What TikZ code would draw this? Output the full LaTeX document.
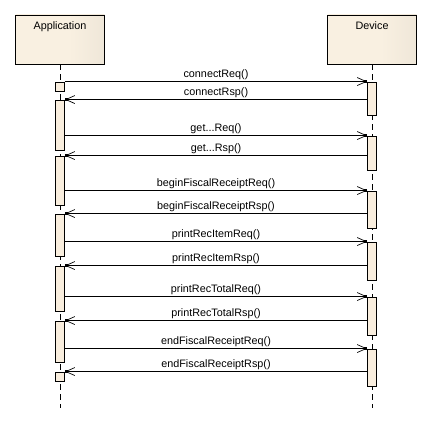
\documentclass[tikz,border=0pt]{standalone}
\usepackage{fontspec}
\setmainfont{Liberation Sans}
\usetikzlibrary{arrows.meta,decorations.markings}

\definecolor{actfill}{RGB}{249,238,222}
\definecolor{headL}{RGB}{249,240,225}
\definecolor{headR}{RGB}{226,219,206}
\pgfdeclarehorizontalshading{headshade}{100bp}{color(0bp)=(headL); color(55bp)=(headL); color(100bp)=(headR)}

\tikzset{
  header/.style={draw=black, line width=0.9pt, shading=headshade,
    minimum width=89pt, minimum height=49pt, inner sep=0pt},
  lifeline/.style={draw=black, line width=0.9pt, dash pattern=on 6pt off 4pt},
  act/.style={draw=black, fill=actfill, line width=0.9pt,
    minimum width=9pt, inner sep=0pt},
  msg/.style={draw=black, line width=0.9pt,
    -{Straight Barb[length=9pt,width=8pt,line width=0.7pt]},
    postaction={decorate},
    decoration={markings, mark=at position 1 with
      {\fill[black] (-2.6pt,-1.2pt) rectangle (0pt,1.2pt);}}},
  lbl/.style={midway, yshift=7pt, inner sep=0pt}
}

\begin{document}
\begin{tikzpicture}[x=1pt, y=-1pt, font=\fontsize{10.8}{12}\selectfont]
  \useasboundingbox (0,0) rectangle (433,425);

  % participants
  \node[header, label={[anchor=north, inner sep=0pt, yshift=-7pt]north:Application}]
    (app) at (60,39.5) {};
  \node[header, label={[anchor=north, inner sep=0pt, yshift=-7pt]north:Device}]
    (dev) at (372,39.5) {};

  % lifelines
  \coordinate (appEnd) at (60,408);
  \coordinate (devEnd) at (372,408);
  \draw[lifeline] (app.south) -- (appEnd);
  \draw[lifeline] (dev.south) -- (devEnd);

  % activations of the application
  \foreach \n/\t/\b in {a1/82/91, a2/100/150, a3/156/205, a4/214/256,
                        a5/266/311, a6/321/362, a7/372/381}
    \node[act, minimum height={\b-\t}] (\n) at (60,{(\t+\b)/2}) {};

  % activations of the device
  \foreach \n/\t/\b in {d1/82/115, d2/136/170, d3/191/228, d4/242/280,
                        d5/297/335, d6/349/386}
    \node[act, minimum height={\b-\t}] (\n) at (372,{(\t+\b)/2}) {};

  % requests and responses
  \draw[msg] (a1.east |- d1.north) -- node[lbl] (m1) {connectReq()} (d1.north west);
  \draw[msg] (d1.west |- a2.north) -- node[lbl] (m2) {connectRsp()} (a2.north east);
  \draw[msg] (a2.east |- d2.north) -- node[lbl] (m3) {get...Req()} (d2.north west);
  \draw[msg] (d2.west |- a3.north) -- node[lbl] (m4) {get...Rsp()} (a3.north east);
  \draw[msg] (a3.east |- d3.north) -- node[lbl] (m5) {beginFiscalReceiptReq()} (d3.north west);
  \draw[msg] (d3.west |- a4.north) -- node[lbl] (m6) {beginFiscalReceiptRsp()} (a4.north east);
  \draw[msg] (a4.east |- d4.north) -- node[lbl] (m7) {printRecItemReq()} (d4.north west);
  \draw[msg] (d4.west |- a5.north) -- node[lbl] (m8) {printRecItemRsp()} (a5.north east);
  \draw[msg] (a5.east |- d5.north) -- node[lbl] (m9) {printRecTotalReq()} (d5.north west);
  \draw[msg] (d5.west |- a6.north) -- node[lbl] (m10) {printRecTotalRsp()} (a6.north east);
  \draw[msg] (a6.east |- d6.north) -- node[lbl] (m11) {endFiscalReceiptReq()} (d6.north west);
  \draw[msg] (d6.west |- a7.north) -- node[lbl] (m12) {endFiscalReceiptRsp()} (a7.north east);
\end{tikzpicture}
\end{document}
